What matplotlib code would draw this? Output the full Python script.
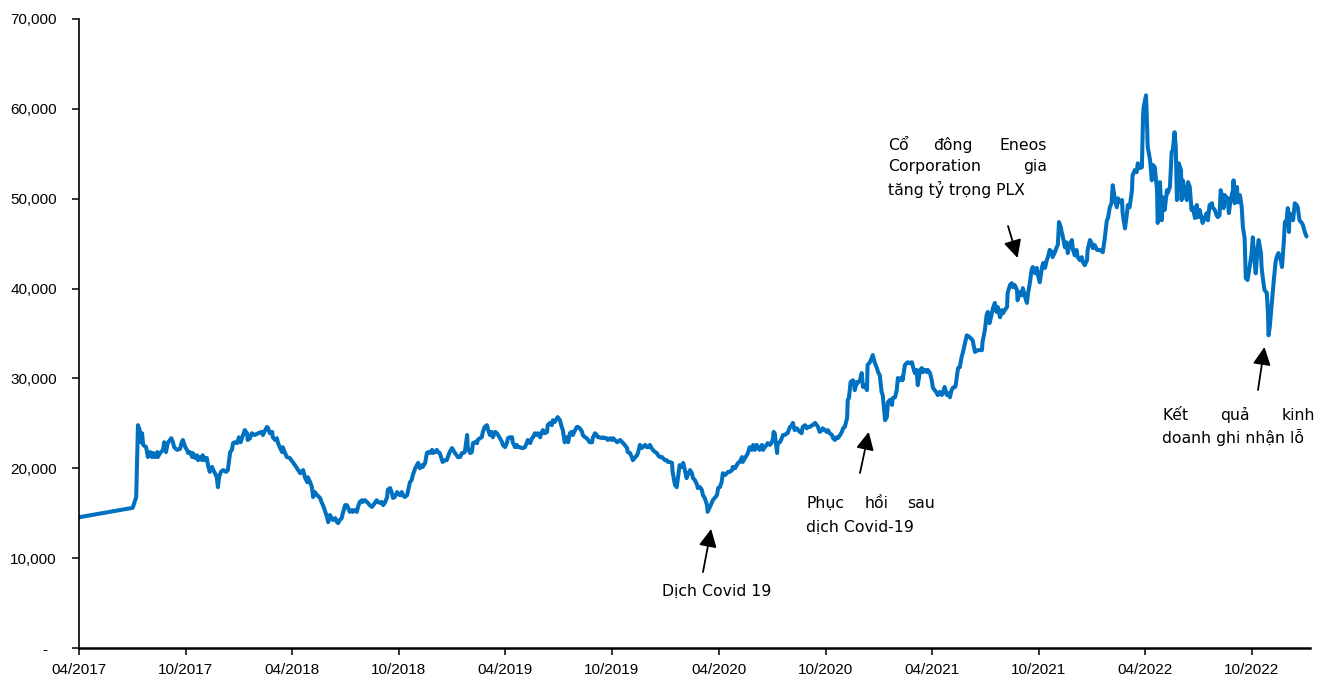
import matplotlib
matplotlib.use("Agg")
import matplotlib.pyplot as plt
import matplotlib.dates as mdates
from matplotlib.ticker import FuncFormatter
import pandas as pd

plt.rcParams["font.family"] = ["Liberation Sans", "DejaVu Sans"]

# ---------------- data ----------------
start_date = "2017-04-01"

day_offset = [
    0, 92, 98, 101, 104, 106, 108, 110, 115, 118, 122, 125, 127, 130, 134, 135, 139, 144, 146, 149,
    152, 158, 161, 163, 168, 173, 176, 178, 182, 185, 187, 190, 194, 195, 199, 202, 204, 207, 211, 212,
    216, 219, 221, 224, 228, 230, 233, 236, 238, 240, 243, 247, 252, 255, 259, 262, 264, 267, 271, 274,
    277, 281, 284, 288, 289, 293, 296, 301, 307, 313, 315, 319, 322, 324, 327, 331, 332, 336, 339, 341,
    344, 348, 349, 353, 356,
    361, 370, 379, 384, 387, 391, 392, 396, 399, 401, 404, 408, 413, 416, 418, 421, 425, 427, 430, 433,
    435, 439, 442, 444, 447, 450, 452, 456, 459, 461, 464, 468, 469, 473, 476, 478, 481, 485, 486, 490,
    493, 495, 498, 502, 504, 507, 510, 512, 516, 519, 521, 524, 528, 529, 533, 536, 538, 541, 545, 546,
    550, 553, 555, 558, 562, 564, 567, 570, 572, 576, 579, 581, 584, 588, 589, 593, 596, 598, 601, 605,
    606, 610, 613, 615, 618, 622, 623, 627, 630, 632, 635, 639, 641, 644, 647, 649,
    653, 656, 658, 661, 665, 666, 670, 673, 675, 678, 682, 683, 687, 690, 692, 695, 699, 701, 704, 707,
    709, 713, 716, 718, 721, 725, 726, 730, 733, 735, 738, 742, 743, 747, 750, 752, 755, 759, 761, 764,
    767, 769, 773, 776, 778, 781, 785, 786, 790, 793, 795, 798, 802, 803, 807, 810, 812, 815, 819, 820,
    824, 827, 829, 832, 836, 838, 841, 844, 846, 850, 853, 855, 858, 862, 863, 867, 870, 872, 875, 879,
    880, 884, 887, 889, 892, 896, 898, 901, 904, 906, 910, 913, 915, 918, 922,
    927, 932, 935, 939, 940, 944, 947, 949, 952, 956, 958, 961, 964, 966, 970, 973, 975, 978, 981, 983,
    987, 990, 992, 995, 999, 1000, 1004, 1007, 1009, 1012, 1016, 1017, 1021, 1024, 1026, 1029, 1033, 1035, 1038, 1041,
    1043, 1047, 1050, 1052, 1055, 1059, 1060, 1064, 1067, 1069, 1072, 1076, 1077, 1081, 1084, 1086, 1089, 1093, 1095, 1098,
    1101, 1103, 1107, 1110, 1112, 1115, 1119, 1120, 1124, 1127, 1129, 1132, 1136, 1137, 1141, 1144, 1146, 1149, 1153, 1155,
    1158, 1161, 1163, 1166, 1170, 1172, 1175, 1178, 1180, 1184, 1187, 1189, 1190, 1192, 1196, 1197, 1201, 1204, 1206, 1209,
    1213, 1214,
    1218, 1221, 1223, 1226, 1230, 1232, 1235, 1238, 1240, 1244, 1247, 1249, 1252, 1256, 1257, 1261, 1264, 1266, 1269, 1273,
    1274, 1278, 1281, 1283, 1286, 1290, 1292, 1295, 1298, 1300, 1304, 1307, 1309, 1312, 1316, 1317, 1319, 1322, 1326, 1328,
    1329, 1333, 1334, 1338, 1341, 1343, 1346, 1350, 1351, 1355, 1358, 1360, 1363, 1367, 1369, 1372, 1375, 1377, 1381, 1384,
    1386, 1389, 1393, 1394, 1398, 1401, 1403, 1406, 1410, 1411, 1415, 1418, 1420, 1423, 1427, 1429, 1432, 1435, 1437, 1441,
    1444, 1446, 1449, 1453, 1454, 1458, 1461, 1463, 1466, 1470, 1471, 1475, 1478, 1480, 1483, 1487, 1489, 1492, 1495, 1497,
    1501, 1502, 1506,
    1509, 1512, 1514, 1518, 1521, 1526, 1531, 1535, 1540, 1547, 1548, 1552, 1555, 1557, 1560, 1564, 1566, 1569, 1572, 1574,
    1578, 1581, 1583, 1586, 1590, 1591, 1595, 1598, 1600, 1603, 1607, 1608, 1612, 1615, 1617, 1620, 1624, 1626, 1629, 1632,
    1634, 1638, 1641, 1643, 1646, 1650, 1652, 1655, 1658, 1660, 1663, 1667, 1668, 1672, 1675, 1677, 1679, 1682, 1684, 1685,
    1689, 1692, 1694, 1697, 1701, 1703, 1706, 1709, 1711, 1715, 1718, 1720, 1723, 1727, 1728, 1732, 1735, 1737, 1740, 1744,
    1749, 1754, 1757, 1761, 1763, 1766, 1769, 1771, 1775, 1778, 1780, 1783, 1787, 1788, 1792, 1795, 1797,
    1800, 1804, 1805, 1809, 1812, 1814, 1817, 1821, 1823, 1824, 1828, 1829, 1831, 1835, 1838, 1840, 1843, 1847, 1848, 1850,
    1852, 1855, 1857, 1860, 1864, 1865, 1869, 1872, 1874, 1877, 1879, 1881, 1884, 1888, 1889, 1891, 1894, 1898, 1900, 1903,
    1906, 1908, 1912, 1915, 1917, 1920, 1924, 1925, 1929, 1932, 1934, 1937, 1941, 1942, 1946, 1949, 1951, 1954, 1956, 1960,
    1961, 1963, 1966, 1968, 1970, 1973, 1977, 1978, 1980, 1984, 1985, 1989, 1992, 1994, 1997, 1999, 2002, 2006, 2009, 2011,
    2014, 2016, 2019, 2021, 2025, 2026, 2028, 2031, 2035, 2037, 2038, 2040, 2043, 2045, 2047, 2050, 2052, 2055, 2059, 2061,
    2064, 2066, 2069, 2071, 2073, 2074, 2078, 2080, 2083, 2086, 2088, 2091, 2095, 2097, 2100, 2103,
]

price = [
    14550, 15600, 16800, 24800, 24250, 22900, 23900, 22600, 22350, 21250, 21800, 21250, 21700, 21250, 21800, 21250, 21700, 22050, 22900, 21800,
    22800, 23350, 22900, 22350, 22050, 22150, 22900, 23150, 22350, 22050, 21700, 21800, 21250, 21700, 21150, 21450, 20900, 21250, 20900, 21450,
    20900, 21150, 20350, 19600, 20150, 19800, 19450, 19000, 17900, 19000, 19600, 19800, 19600, 19800, 21800, 22050, 22800, 22900, 22800, 23450,
    22900, 23700, 24250, 23900, 23150, 23350, 23900, 23700, 23900, 24050, 23700, 24250, 24600, 24450, 23900, 24050, 23450, 23150, 23350, 22800,
    22350, 21800, 22350, 21700, 21250,
    21150, 20350, 19450, 19800, 19000, 18450, 19000, 18450, 17900, 16800, 17350, 17000, 16700, 16150, 15900, 15350, 14550, 14000, 14800, 14450,
    14250, 14450, 14000, 13900, 14250, 14450, 15000, 15900, 15900, 15600, 15150, 15350, 15150, 15350, 15150, 15700, 16250, 16450, 16250, 16450,
    16250, 16150, 15900, 15700, 15900, 16150, 16450, 16250, 16150, 16250, 15900, 16150, 16800, 17600, 17800, 17250, 16700, 16800, 17350, 17250,
    17000, 17350, 17000, 16800, 17000, 17600, 18450, 18700, 19250, 20000, 20350, 20600, 20000, 20350, 20150, 20600, 21700, 21800, 21700, 22050,
    21700, 21800, 22050, 21800, 21700, 20900, 20700, 20900, 20900, 21250, 21800, 22250, 22050, 21700, 21450, 21250,
    21250, 21700, 21700, 21800, 23700, 22350, 21700, 21800, 22800, 22900, 22800, 23150, 23350, 23450, 24050, 24600, 24800, 24250, 23700, 24050,
    23450, 24050, 23900, 23700, 23350, 22900, 22600, 22350, 22800, 23350, 23450, 23450, 22900, 22350, 22600, 22350, 22350, 22250, 22250, 22350,
    22800, 23150, 22800, 23350, 23450, 23900, 23700, 23900, 23450, 24050, 24250, 23900, 24050, 24800, 25050, 24800, 25350, 25150, 25600, 25700,
    25350, 24600, 24250, 22900, 23450, 22900, 23900, 24050, 23700, 24250, 24600, 24600, 24450, 24050, 23700, 23450, 23350, 23150, 22900, 22900,
    23350, 23900, 23700, 23450, 23450, 23350, 23450, 23350, 23350, 23150, 23350, 23150, 23350, 23150, 22900,
    23150, 22800, 22600, 22250, 21800, 21700, 21250, 20900, 21150, 21450, 21800, 22600, 22250, 22350, 22600, 22350, 22350, 22600, 22250, 22050,
    21800, 21700, 21450, 21250, 21250, 21150, 20900, 20900, 20700, 20700, 20600, 19600, 18150, 17900, 18900, 20350, 20150, 20600, 19800, 18900,
    19250, 19800, 19450, 18900, 18700, 18150, 17800, 17900, 17600, 17000, 16700, 15900, 15150, 15700, 16150, 16450, 16700, 17000, 17800, 17900,
    18450, 19450, 19250, 19450, 19600, 19600, 19800, 20150, 20000, 20350, 20600, 20700, 21250, 20700, 21150, 21450, 21700, 22350, 22050, 22600,
    22050, 22600, 22350, 22050, 22600, 22050, 22350, 22600, 22800, 22600, 22900, 23350, 24050, 23900, 21700, 22800, 22900, 23350, 23700, 23700,
    23900, 23900,
    24600, 24700, 25050, 24250, 24450, 24250, 24050, 23900, 24600, 24800, 24450, 24600, 24600, 24800, 24800, 25050, 24800, 24600, 24050, 24250,
    24450, 24250, 24050, 24250, 23900, 23700, 23350, 23150, 23450, 23350, 23700, 24050, 24450, 24600, 25600, 27600, 27800, 29600, 29800, 29500,
    28700, 29600, 29500, 29800, 30600, 29050, 29250, 28700, 31500, 31800, 32250, 32600, 31800, 31150, 30700, 30350, 28500, 28150, 25350, 25700,
    27350, 27600, 27050, 27800, 27900, 28700, 30050, 29800, 30150, 29800, 31500, 31700, 31800, 31700, 31800, 31250, 30600, 30950, 29250, 30950,
    31150, 30700, 30950, 30700, 30950, 30600, 29800, 28950, 28700, 28350, 28150, 28500, 28150, 28350, 29050, 28150, 28350, 27900, 28700, 28950,
    29050, 29250, 31150,
    31250, 32350, 32800, 33950, 34800, 34600, 34250, 32950, 33150, 33150, 34050, 35400, 37050, 37400, 36150, 37250, 37850, 38400, 37400, 37950,
    36800, 37600, 37250, 37600, 37950, 39500, 40400, 40600, 40150, 40400, 39850, 38700, 39600, 39250, 40050, 39250, 38400, 39500, 40600, 42050,
    42400, 41700, 42300, 41500, 40700, 42400, 42850, 42300, 43150, 43500, 44300, 44050, 43500, 44050, 44600, 44850, 47400, 46850, 46150, 45950,
    44600, 45150, 43950, 44850, 45400, 44300, 43700, 44300, 43500, 43150, 43500, 42950, 42600, 43150, 44300, 45400, 45050, 44500, 44850, 44300,
    44300, 44050, 45400, 47600, 47850, 49050, 49500, 51500, 49850, 49050, 50050, 49600, 49850, 48400, 46700, 48150, 49300,
    49050, 50950, 52600, 53200, 52950, 53950, 53400, 53500, 59300, 60200, 61500, 59850, 55750, 54300, 52050, 53750, 53500, 50950, 47300, 48400,
    51850, 47600, 50150, 48750, 50950, 50600, 51300, 55200, 55400, 57400, 55750, 49850, 53950, 53200, 49850, 52050, 50950, 49850, 51850, 51300,
    48750, 49050, 47850, 49300, 47950, 48750, 47600, 47300, 47950, 48400, 47600, 49300, 49500, 49050, 48750, 48150, 47950, 48150, 50950, 49850,
    48950, 50400, 50150, 50050, 48400, 49850, 50950, 52050, 49500, 51300, 49600, 50400, 49050, 46850, 45600, 41150, 40950, 42600, 43950, 45700,
    43150, 41700, 44300, 45400, 43950, 42400, 41250, 39850, 39500, 37250, 34800, 35700, 37950, 39500, 40950, 42950, 43500, 43950, 43150, 42400,
    45050, 47400, 47600, 48950, 46300, 48400, 47950, 47600, 49500, 49300, 49050, 47600, 47300, 47050, 46300, 45800,
]

y_ticks = [0, 10000, 20000, 30000, 40000, 50000, 60000, 70000]

# arrows: tail position (figure px), tip (day offset, price)
arrow_specs = [
    ((703, 572), 1083, 13250),
    ((860, 473), 1353, 24050),
    ((1008, 226), 1608, 43400),
    ((1258, 390), 2031, 33500),
]

# annotation words (justified lines are placed word by word): (text, x_px, y_px, ha)
words = [
    ("Dịch Covid 19", 662, 591, "left"),
    ("Phục", 806, 503, "left"),
    ("hồi", 877, 503, "center"),
    ("sau", 935, 503, "right"),
    ("dịch Covid-19", 806, 527, "left"),
    ("Cổ", 888, 145, "left"),
    ("đông", 953, 145, "center"),
    ("Eneos", 1047, 145, "right"),
    ("Corporation", 888, 167, "left"),
    ("gia", 1047, 167, "right"),
    ("tăng tỷ trọng PLX", 888, 189, "left"),
    ("Kết", 1162, 415, "left"),
    ("quả", 1235, 415, "center"),
    ("kinh", 1315, 415, "right"),
    ("doanh ghi nhận lỗ", 1162, 437, "left"),
]

# ---------------- figure ----------------
W, H = 1330, 687
fig = plt.figure(figsize=(W / 100, H / 100), dpi=100)
fig.patch.set_facecolor("white")
ax = fig.add_axes([79 / W, (H - 648) / H, (1310 - 79) / W, (648 - 19) / H])

t0 = pd.Timestamp(start_date)
dates = t0 + pd.to_timedelta(day_offset, unit="D")

ax.plot(dates, price, color="#0070C0", lw=2.9, solid_joinstyle="round", solid_capstyle="round")

ax.set_xlim(t0, t0 + pd.Timedelta(days=2109))
ax.set_ylim(0, 70000)
ax.set_yticks(y_ticks)


def yfmt(v, pos):
    if v == 0:
        return "-  "
    return f"{int(v):,}"


ax.yaxis.set_major_formatter(FuncFormatter(yfmt))
ax.xaxis.set_major_locator(mdates.MonthLocator(bymonth=[4, 10]))
ax.xaxis.set_major_formatter(mdates.DateFormatter("%m/%Y"))

for s in ["top", "right"]:
    ax.spines[s].set_visible(False)
ax.spines["left"].set_linewidth(1.2)
ax.spines["bottom"].set_linewidth(1.8)
ax.tick_params(axis="y", direction="out", length=5, width=1.1, pad=11, labelsize=11)
ax.tick_params(axis="x", direction="out", length=5, width=1.1, pad=6, labelsize=11)

for (tx, ty), dday, pv in arrow_specs:
    ax.annotate("", xy=(t0 + pd.Timedelta(days=dday), pv),
                xytext=(tx / W, 1 - ty / H), textcoords="figure fraction",
                arrowprops=dict(arrowstyle="-|>", color="black", lw=1.3,
                                mutation_scale=27, shrinkA=0, shrinkB=0))

for txt, x, y, ha in words:
    fig.text(x / W, 1 - y / H, txt, ha=ha, va="center", fontsize=11.3,
             family=["DejaVu Sans"], color="black")

fig.savefig("out.png", dpi=100, facecolor="white")
